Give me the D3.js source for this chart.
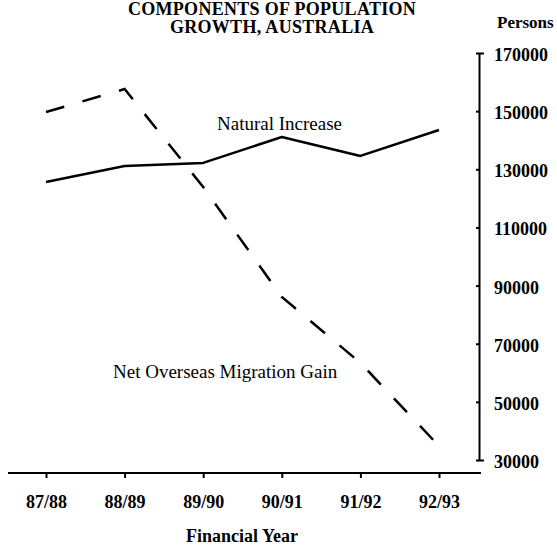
<!DOCTYPE html>
<html>
<head>
<meta charset="utf-8">
<script src="https://cdn.jsdelivr.net/npm/d3@7"></script>
<style>
  html, body { margin: 0; padding: 0; background: #fff; }
  svg { display: block; }
  text { font-family: "Liberation Serif", "Times New Roman", serif; fill: #000; }
</style>
</head>
<body>
<script>
const years = ["87/88", "88/89", "89/90", "90/91", "91/92", "92/93"];
const naturalIncrease = [125600, 131100, 132200, 141100, 134600, 143500];
const netOverseasMigration = [149700, 157600, 123900, 86100, 63400, 34800];
const yTicks = [30000, 50000, 70000, 90000, 110000, 130000, 150000, 170000];
const titleLines = ["COMPONENTS OF POPULATION", "GROWTH, AUSTRALIA"];

const W = 557, H = 547;
const svg = d3.select("body").append("svg").attr("width", W).attr("height", H);

const x = d3.scalePoint().domain(years).range([46, 439]);
const y = d3.scaleLinear().domain([30000, 170000]).range([460, 53]);

// Title (two separate lines)
svg.selectAll("text.title").data(titleLines).join("text")
  .attr("class", "title")
  .attr("x", 272).attr("y", (d, i) => 15 + i * 18)
  .attr("text-anchor", "middle")
  .attr("font-weight", "bold").attr("font-size", 18)
  .attr("letter-spacing", 0.3)
  .text(d => d);

// Persons label
svg.append("text")
  .attr("x", 497).attr("y", 28)
  .attr("font-weight", "bold").attr("font-size", 17)
  .text("Persons");

// Y axis on the right
const yAxis = d3.axisRight(y)
  .tickValues(yTicks)
  .tickSizeInner(-3)
  .tickSizeOuter(5)
  .tickPadding(15)
  .tickFormat(d3.format("d"));
const gy = svg.append("g").attr("transform", "translate(479,0)").call(yAxis);
gy.select(".domain").attr("stroke", "#000").attr("stroke-width", 2);
gy.selectAll(".tick line").attr("stroke", "#000").attr("stroke-width", 2);
gy.selectAll(".tick text")
  .attr("font-family", "Liberation Serif, serif")
  .attr("font-weight", "bold").attr("font-size", 18)
  .attr("dy", "0.42em");

// X axis
svg.append("line")
  .attr("x1", 8).attr("x2", 481).attr("y1", 473).attr("y2", 473)
  .attr("stroke", "#000").attr("stroke-width", 2);
const xAxis = d3.axisBottom(x).tickSizeInner(5).tickSizeOuter(0).tickPadding(17);
const gx = svg.append("g").attr("transform", "translate(0,473)").call(xAxis);
gx.select(".domain").remove();
gx.selectAll(".tick line").attr("stroke", "#000").attr("stroke-width", 2);
gx.selectAll(".tick text")
  .attr("font-family", "Liberation Serif, serif")
  .attr("font-weight", "bold").attr("font-size", 18);

svg.append("text")
  .attr("x", 242).attr("y", 542)
  .attr("text-anchor", "middle")
  .attr("font-weight", "bold").attr("font-size", 18)
  .text("Financial Year");

// Lines
const line = d3.line().x((d, i) => x(years[i])).y(d => y(d));

svg.append("path")
  .datum(naturalIncrease)
  .attr("d", line)
  .attr("fill", "none").attr("stroke", "#000").attr("stroke-width", 2.5)
  .attr("stroke-linejoin", "round");

svg.append("path")
  .datum(netOverseasMigration)
  .attr("d", line)
  .attr("fill", "none").attr("stroke", "#000").attr("stroke-width", 2.5)
  .attr("stroke-dasharray", "19,19");

// Annotations
svg.append("text")
  .attr("x", 217).attr("y", 130)
  .attr("font-size", 19)
  .text("Natural Increase");

svg.append("text")
  .attr("x", 113).attr("y", 378)
  .attr("font-size", 19)
  .text("Net Overseas Migration Gain");
</script>
</body>
</html>
